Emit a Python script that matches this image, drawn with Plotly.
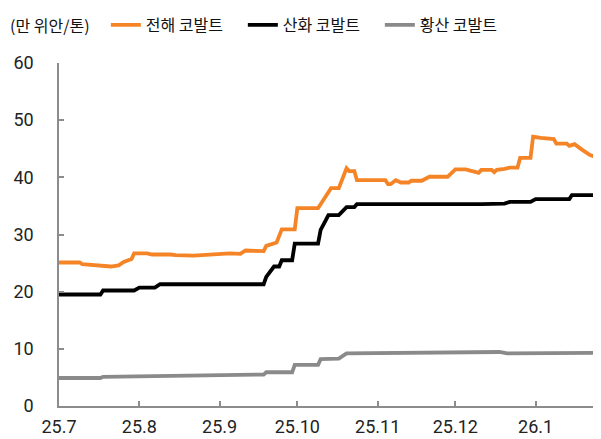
import plotly.graph_objects as go

# 전해 코발트 (electrolytic cobalt)
elec_dates = ["2025-07-01", "2025-07-09", "2025-07-10", "2025-07-17", "2025-07-21", "2025-07-24",
              "2025-07-26", "2025-07-29", "2025-07-30", "2025-08-04", "2025-08-06", "2025-08-13",
              "2025-08-15", "2025-08-22", "2025-08-26", "2025-09-05", "2025-09-09", "2025-09-11",
              "2025-09-18", "2025-09-19", "2025-09-23", "2025-09-25", "2025-09-30", "2025-10-01",
              "2025-10-09", "2025-10-14", "2025-10-17", "2025-10-20", "2025-10-21", "2025-10-23",
              "2025-10-24", "2025-11-04", "2025-11-05", "2025-11-06", "2025-11-08", "2025-11-10",
              "2025-11-13", "2025-11-14", "2025-11-18", "2025-11-20", "2025-11-21", "2025-11-28",
              "2025-12-01", "2025-12-05", "2025-12-10", "2025-12-11", "2025-12-15", "2025-12-16",
              "2025-12-17", "2025-12-20", "2025-12-22", "2025-12-25", "2025-12-26", "2025-12-30",
              "2025-12-31", "2026-01-03", "2026-01-08", "2026-01-09", "2026-01-13", "2026-01-14",
              "2026-01-16", "2026-01-19", "2026-01-22", "2026-01-24"]
elec_vals = [25.1, 25.1, 24.8, 24.6, 24.4, 24.6,
             25.2, 25.7, 26.7, 26.7, 26.5, 26.5,
             26.4, 26.3, 26.4, 26.7, 26.6, 27.2,
             27.1, 28.0, 28.6, 30.9, 30.9, 34.6,
             34.6, 38.1, 38.1, 41.6, 41.1, 41.1,
             39.5, 39.5, 38.8, 38.8, 39.5, 39.1,
             39.1, 39.4, 39.4, 39.8, 40.1, 40.1,
             41.4, 41.4, 40.8, 41.3, 41.3, 40.9,
             41.3, 41.5, 41.7, 41.7, 43.4, 43.4,
             47.1, 46.9, 46.7, 45.9, 45.9, 45.5,
             45.8, 44.8, 43.9, 43.6]

# 산화 코발트 (cobalt oxide)
oxide_dates = ["2025-07-01", "2025-07-17", "2025-07-18", "2025-07-30", "2025-08-01", "2025-08-07",
               "2025-08-09", "2025-09-18", "2025-09-19", "2025-09-22", "2025-09-24", "2025-09-25",
               "2025-09-29", "2025-09-30", "2025-10-09", "2025-10-10", "2025-10-12", "2025-10-13",
               "2025-10-17", "2025-10-20", "2025-10-23", "2025-10-24", "2025-12-11", "2025-12-20",
               "2025-12-22", "2025-12-30", "2026-01-01", "2026-01-14", "2026-01-15", "2026-01-24"]
oxide_vals = [19.5, 19.5, 20.2, 20.2, 20.7, 20.7,
              21.3, 21.3, 22.6, 24.4, 24.4, 25.5,
              25.5, 28.4, 28.4, 30.8, 32.5, 33.4,
              33.4, 34.8, 34.8, 35.3, 35.3, 35.4,
              35.7, 35.7, 36.2, 36.2, 36.9, 36.9]

# 황산 코발트 (cobalt sulfate)
sulf_dates = ["2025-07-01", "2025-07-17", "2025-07-18", "2025-09-04", "2025-09-18", "2025-09-19",
              "2025-09-29", "2025-09-30", "2025-10-09", "2025-10-10", "2025-10-17", "2025-10-20",
              "2025-12-16", "2025-12-18", "2025-12-21", "2025-12-30", "2026-01-01", "2026-01-24"]
sulf_vals = [4.9, 4.9, 5.1, 5.3, 5.5, 5.9,
             5.9, 7.2, 7.2, 8.2, 8.3, 9.2,
             9.3, 9.45, 9.2, 9.2, 9.3, 9.3]

tick_dates = ["2025-07-01", "2025-08-01", "2025-09-01", "2025-10-01", "2025-11-01", "2025-12-01", "2026-01-01"]
tick_labels = ["25.7", "25.8", "25.9", "25.10", "25.11", "25.12", "26.1"]
y_ticks = [0, 10, 20, 30, 40, 50, 60]

FONT = "Roboto, 'Noto Sans CJK KR', sans-serif"
KFONT = "'Noto Sans CJK KR', sans-serif"
AXIS = "#8c8c8c"

fig = go.Figure()
fig.add_trace(go.Scatter(x=elec_dates, y=elec_vals, mode="lines", name="전해 코발트",
                         line=dict(color="#F58426", width=3.8)))
fig.add_trace(go.Scatter(x=oxide_dates, y=oxide_vals, mode="lines", name="산화 코발트",
                         line=dict(color="#000000", width=3.8)))
fig.add_trace(go.Scatter(x=sulf_dates, y=sulf_vals, mode="lines", name="황산 코발트",
                         line=dict(color="#8a8a8a", width=3.8)))

# the page body has an 8px margin, so the figure is sized to fit the 601x439 window
fig.update_layout(
    width=593, height=431,
    margin=dict(l=51, r=1, t=55, b=33, autoexpand=False),
    paper_bgcolor="white", plot_bgcolor="white",
    font=dict(family=FONT, size=18, color="#222222"),
    showlegend=True,
    legend=dict(orientation="h", xref="container", yref="container",
                x=0.165, xanchor="left", y=0.9606, yanchor="middle",
                font=dict(family=KFONT, size=16, color="#111111"),
                bgcolor="rgba(0,0,0,0)", itemwidth=30, entrywidth=92,
                tracegroupgap=0),
    annotations=[dict(text="(만 위안/톤)", xref="paper", yref="paper", x=-0.0943, y=1.1108,
                      xanchor="left", yanchor="middle", showarrow=False,
                      font=dict(family=KFONT, size=16, color="#111111"))],
)
fig.update_xaxes(type="date", range=["2025-07-01", "2026-01-25 20:00"],
                 tickvals=tick_dates, ticktext=tick_labels, automargin=False,
                 showline=True, linecolor=AXIS, linewidth=1.5,
                 ticks="inside", ticklen=5, tickcolor=AXIS, tickwidth=1.5,
                 showgrid=False, zeroline=False, ticklabelstandoff=4)
fig.update_yaxes(range=[0, 60], tickvals=y_ticks, automargin=False,
                 showline=True, linecolor=AXIS, linewidth=1.5,
                 ticks="inside", ticklen=5, tickcolor=AXIS, tickwidth=1.5,
                 showgrid=False, zeroline=False, ticklabelstandoff=20)

fig.write_html("out.html")
